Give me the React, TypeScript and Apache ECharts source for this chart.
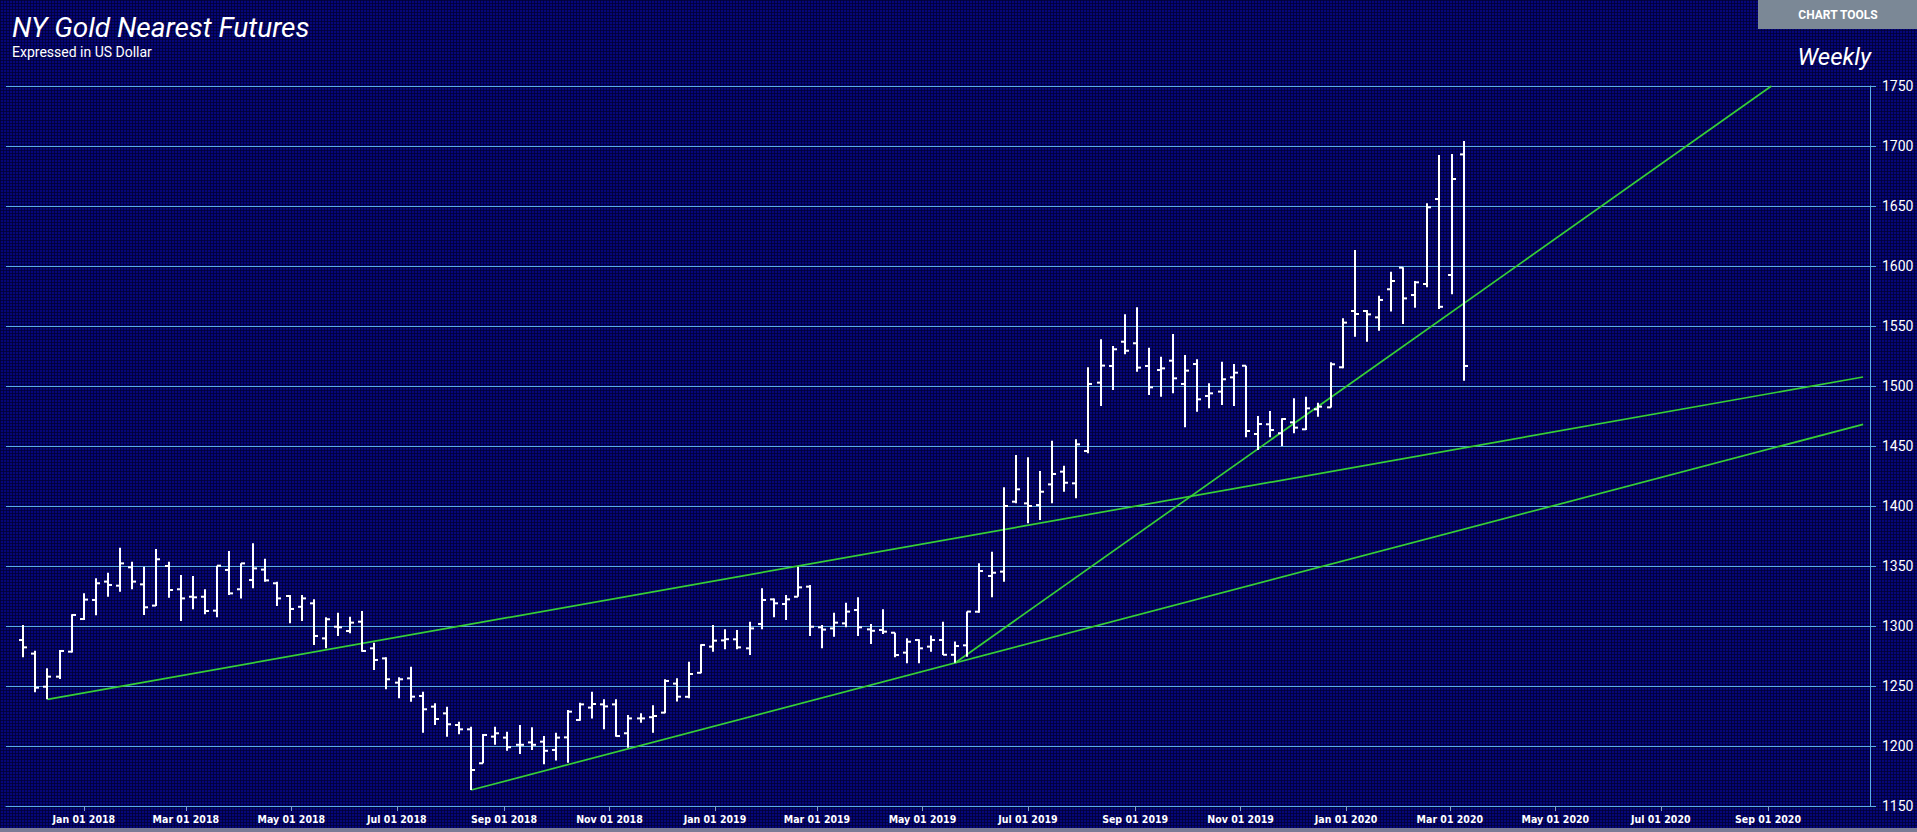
import React, { useEffect, useRef } from "react";
import * as echarts from "echarts";

// Weekly bar dates (week starting Monday)
const weekDates: string[] = [
  "2017-11-27", "2017-12-04", "2017-12-11", "2017-12-18", "2017-12-25",
  "2018-01-01", "2018-01-08", "2018-01-15", "2018-01-22", "2018-01-29",
  "2018-02-05", "2018-02-12", "2018-02-19", "2018-02-26", "2018-03-05",
  "2018-03-12", "2018-03-19", "2018-03-26", "2018-04-02", "2018-04-09",
  "2018-04-16", "2018-04-23", "2018-04-30", "2018-05-07", "2018-05-14",
  "2018-05-21", "2018-05-28", "2018-06-04", "2018-06-11", "2018-06-18",
  "2018-06-25", "2018-07-02", "2018-07-09", "2018-07-16", "2018-07-23",
  "2018-07-30", "2018-08-06", "2018-08-13", "2018-08-20", "2018-08-27",
  "2018-09-03", "2018-09-10", "2018-09-17", "2018-09-24", "2018-10-01",
  "2018-10-08", "2018-10-15", "2018-10-22", "2018-10-29", "2018-11-05",
  "2018-11-12", "2018-11-19", "2018-11-26", "2018-12-03", "2018-12-10",
  "2018-12-17", "2018-12-24", "2018-12-31", "2019-01-07", "2019-01-14",
  "2019-01-21", "2019-01-28", "2019-02-04", "2019-02-11", "2019-02-18",
  "2019-02-25", "2019-03-04", "2019-03-11", "2019-03-18", "2019-03-25",
  "2019-04-01", "2019-04-08", "2019-04-15", "2019-04-22", "2019-04-29",
  "2019-05-06", "2019-05-13", "2019-05-20", "2019-05-27", "2019-06-03",
  "2019-06-10", "2019-06-17", "2019-06-24", "2019-07-01", "2019-07-08",
  "2019-07-15", "2019-07-22", "2019-07-29", "2019-08-05", "2019-08-12",
  "2019-08-19", "2019-08-26", "2019-09-02", "2019-09-09", "2019-09-16",
  "2019-09-23", "2019-09-30", "2019-10-07", "2019-10-14", "2019-10-21",
  "2019-10-28", "2019-11-04", "2019-11-11", "2019-11-18", "2019-11-25",
  "2019-12-02", "2019-12-09", "2019-12-16", "2019-12-23", "2019-12-30",
  "2020-01-06", "2020-01-13", "2020-01-20", "2020-01-27", "2020-02-03",
  "2020-02-10", "2020-02-17", "2020-02-24", "2020-03-02", "2020-03-09",
];

const opens: number[] = [
  1288.3, 1277.0, 1249.4, 1257.8, 1278.6, 1305.8, 1321.7, 1337.0, 1333.6, 1348.9,
  1334.7, 1317.0, 1350.0, 1330.6, 1324.4, 1324.4, 1312.8, 1346.7, 1330.6, 1338.3,
  1347.0, 1335.6, 1325.0, 1316.0, 1318.9, 1289.7, 1299.4, 1295.8, 1303.6, 1281.4,
  1273.0, 1252.8, 1256.4, 1241.7, 1232.8, 1227.2, 1217.5, 1213.9, 1185.6, 1207.8,
  1207.0, 1201.0, 1203.0, 1203.6, 1196.7, 1207.2, 1221.7, 1232.0, 1234.7, 1234.7,
  1210.6, 1223.0, 1224.0, 1227.8, 1252.0, 1241.0, 1261.0, 1282.8, 1288.0, 1288.9,
  1281.4, 1301.7, 1322.2, 1318.3, 1324.4, 1332.8, 1298.9, 1298.0, 1302.2, 1313.3,
  1297.2, 1296.7, 1294.4, 1277.8, 1288.3, 1282.8, 1288.3, 1276.0, 1283.9, 1311.9,
  1341.7, 1345.3, 1403.6, 1402.2, 1400.8, 1418.0, 1428.6, 1418.9, 1445.8, 1502.8,
  1516.7, 1536.9, 1535.6, 1516.7, 1513.3, 1521.1, 1501.7, 1518.3, 1491.7, 1495.3,
  1507.2, 1516.9, 1460.0, 1468.1, 1460.6, 1469.7, 1463.9, 1480.6, 1482.2, 1515.6,
  1562.5, 1562.5, 1557.2, 1580.6, 1598.6, 1575.8, 1585.0, 1655.8, 1592.5, 1693.0,
];

const highs: number[] = [
  1300.8, 1279.4, 1264.7, 1280.0, 1309.7, 1327.2, 1339.7, 1344.4, 1365.3, 1353.6,
  1349.4, 1364.2, 1353.6, 1342.5, 1341.7, 1330.6, 1350.3, 1362.5, 1352.2, 1368.9,
  1356.0, 1336.9, 1325.8, 1325.8, 1322.2, 1307.2, 1311.0, 1307.8, 1312.5, 1286.1,
  1273.9, 1257.2, 1266.1, 1245.3, 1235.6, 1232.8, 1220.3, 1216.1, 1210.0, 1216.0,
  1211.9, 1217.5, 1215.6, 1208.3, 1211.0, 1230.0, 1236.0, 1245.3, 1238.9, 1238.9,
  1225.8, 1227.2, 1234.0, 1255.6, 1256.4, 1270.3, 1284.7, 1300.8, 1297.2, 1296.7,
  1303.6, 1331.4, 1323.0, 1325.8, 1349.4, 1334.2, 1300.8, 1311.0, 1319.4, 1323.9,
  1301.7, 1313.9, 1294.4, 1289.7, 1288.9, 1292.0, 1303.6, 1287.0, 1312.0, 1352.2,
  1361.9, 1415.6, 1442.5, 1440.6, 1429.2, 1454.4, 1433.6, 1455.6, 1515.6, 1538.9,
  1533.3, 1559.7, 1565.6, 1531.9, 1524.4, 1543.3, 1525.8, 1522.2, 1502.2, 1520.3,
  1518.3, 1516.9, 1475.0, 1479.2, 1473.1, 1489.7, 1491.1, 1486.1, 1519.7, 1556.4,
  1613.3, 1563.3, 1575.3, 1595.3, 1598.9, 1587.5, 1652.2, 1692.5, 1693.3, 1704.2,
];

const lows: number[] = [
  1273.9, 1244.7, 1238.9, 1255.8, 1278.0, 1305.0, 1309.0, 1324.4, 1328.6, 1330.6,
  1309.2, 1316.7, 1323.6, 1304.2, 1313.9, 1309.7, 1307.2, 1325.8, 1323.0, 1331.4,
  1336.9, 1316.7, 1302.2, 1304.2, 1284.2, 1281.4, 1291.7, 1293.9, 1278.6, 1263.3,
  1247.2, 1239.7, 1236.9, 1211.1, 1217.5, 1207.8, 1209.7, 1163.3, 1185.6, 1201.0,
  1196.0, 1193.3, 1196.7, 1184.7, 1188.0, 1186.0, 1221.0, 1223.0, 1213.9, 1207.8,
  1198.6, 1219.4, 1211.0, 1227.2, 1237.0, 1239.7, 1260.6, 1278.6, 1280.6, 1280.6,
  1275.8, 1297.2, 1307.2, 1305.0, 1324.4, 1291.7, 1281.4, 1291.0, 1298.9, 1291.7,
  1285.0, 1293.3, 1273.9, 1268.9, 1268.9, 1278.6, 1275.8, 1269.4, 1274.4, 1311.1,
  1323.9, 1336.9, 1402.2, 1385.6, 1388.3, 1402.2, 1411.9, 1406.4, 1443.9, 1483.3,
  1496.7, 1526.4, 1511.9, 1492.5, 1491.1, 1493.9, 1465.6, 1478.6, 1481.4, 1484.2,
  1483.3, 1457.2, 1446.7, 1457.2, 1450.0, 1460.6, 1463.3, 1474.4, 1482.0, 1514.7,
  1541.1, 1536.9, 1546.1, 1562.0, 1551.7, 1565.3, 1582.2, 1564.2, 1576.4, 1504.4,
];

const closes: number[] = [
  1282.2, 1248.6, 1257.8, 1279.2, 1309.2, 1322.0, 1335.6, 1334.2, 1352.2, 1337.0,
  1315.6, 1355.6, 1330.0, 1323.0, 1323.9, 1312.5, 1350.3, 1327.2, 1352.2, 1348.0,
  1338.0, 1323.0, 1314.2, 1323.0, 1291.7, 1305.6, 1298.9, 1302.8, 1279.2, 1271.7,
  1255.6, 1255.6, 1241.1, 1230.6, 1222.5, 1218.1, 1213.9, 1180.0, 1209.2, 1210.6,
  1199.0, 1201.0, 1201.0, 1196.0, 1207.0, 1228.6, 1234.7, 1235.0, 1233.0, 1208.3,
  1223.0, 1223.0, 1225.0, 1254.2, 1241.1, 1260.0, 1284.2, 1287.8, 1289.0, 1282.2,
  1298.0, 1321.7, 1318.9, 1322.2, 1332.2, 1299.4, 1297.0, 1302.8, 1312.0, 1298.9,
  1296.0, 1295.3, 1275.8, 1286.9, 1281.4, 1288.3, 1276.0, 1283.3, 1312.0, 1345.8,
  1344.4, 1400.0, 1413.9, 1400.0, 1411.9, 1426.7, 1419.4, 1451.4, 1501.7, 1517.0,
  1530.6, 1529.4, 1515.3, 1498.9, 1514.7, 1506.4, 1512.8, 1488.9, 1493.9, 1505.6,
  1511.1, 1462.5, 1468.3, 1463.3, 1472.5, 1465.3, 1481.4, 1482.8, 1518.1, 1552.8,
  1560.0, 1559.7, 1571.7, 1587.5, 1573.0, 1586.4, 1648.9, 1566.0, 1672.5, 1516.7,
];

// Trend lines: [date, price] endpoints
const trendLine1: [string, number][] = [["2017-12-11", 1238.9], ["2020-10-26", 1507.5]];
const trendLine2: [string, number][] = [["2018-08-13", 1163.3], ["2020-10-26", 1468.0]];
const trendLine3: [string, number][] = [["2019-05-20", 1269.4], ["2020-09-03", 1750.0]];

// x-axis tick dates
const xTickDates: string[] = [
  "2018-01-01", "2018-03-01", "2018-05-01", "2018-07-01", "2018-09-01", "2018-11-01",
  "2019-01-01", "2019-03-01", "2019-05-01", "2019-07-01", "2019-09-01", "2019-11-01",
  "2020-01-01", "2020-03-01", "2020-05-01", "2020-07-01", "2020-09-01",
];
const monthNames: string[] = ["Jan", "Feb", "Mar", "Apr", "May", "Jun", "Jul", "Aug", "Sep", "Oct", "Nov", "Dec"];

const xRange: string[] = ["2017-11-17", "2020-10-30"];
const yMin = 1150;
const yMax = 1750;
const yStep = 50;

const ts = (s: string) => Date.parse(s + "T00:00:00Z");

const GRID_BLUE = "#5aaee6";

export default function App() {
  const ref = useRef<HTMLDivElement>(null);

  useEffect(() => {
    if (!ref.current) return;
    const chart = echarts.init(ref.current, undefined, { renderer: "svg" });

    const ohlc = weekDates.map((d, i) => [ts(d), opens[i], highs[i], lows[i], closes[i]]);
    const toLine = (arr: [string, number][]) => arr.map(([d, p]) => [ts(d), p]);

    const lineSeries = [trendLine1, trendLine2, trendLine3].map((l) => ({
      type: "line",
      data: toLine(l),
      showSymbol: false,
      symbol: "none",
      silent: true,
      z: 2,
      lineStyle: { color: "#36cf36", width: 1.7 },
    }));

    const option: any = {
      animation: false,
      backgroundColor: "transparent",
      grid: { left: 6, right: 47, top: 86, bottom: 26, containLabel: false },
      graphic: [
        {
          type: "text",
          x: 12,
          y: 27,
          style: {
            text: "NY Gold Nearest Futures",
            fill: "#ffffff",
            fontFamily: "Roboto",
            fontSize: 28,
            fontStyle: "italic",
            verticalAlign: "middle",
            align: "left",
          },
        },
        {
          type: "text",
          x: 12,
          y: 51.5,
          style: {
            text: "Expressed in US Dollar",
            fill: "#ffffff",
            fontFamily: "Roboto",
            fontSize: 14,
            verticalAlign: "middle",
            align: "left",
          },
        },
        {
          type: "text",
          x: 1871,
          y: 57,
          style: {
            text: "Weekly",
            fill: "#ffffff",
            fontFamily: "Roboto",
            fontSize: 24,
            fontStyle: "italic",
            verticalAlign: "middle",
            align: "right",
          },
        },
        {
          type: "rect",
          shape: { x: 1758, y: 0, width: 159, height: 29 },
          style: { fill: "#7b8896" },
        },
        {
          type: "text",
          x: 1838,
          y: 14.5,
          style: {
            text: "CHART TOOLS",
            fill: "#ffffff",
            fontFamily: "Roboto",
            fontWeight: "bold",
            fontSize: 12,
            verticalAlign: "middle",
            align: "center",
          },
        },
        {
          type: "rect",
          shape: { x: 0, y: 828, width: 1917, height: 4 },
          style: { fill: "#7a7b96" },
        },
      ],
      xAxis: {
        type: "value",
        min: ts(xRange[0]),
        max: ts(xRange[1]),
        axisLine: { show: true, lineStyle: { color: GRID_BLUE, width: 1 } },
        axisTick: {
          show: true,
          length: 5,
          customValues: xTickDates.map(ts),
          lineStyle: { color: "#7f9fc4" },
        },
        axisLabel: {
          customValues: xTickDates.map(ts),
          color: "#ffffff",
          fontFamily: "'Liberation Sans Narrow', 'DejaVu Sans Condensed', Roboto, sans-serif",
          fontWeight: "bold",
          fontSize: 10.5,
          margin: 7,
          formatter: (v: number) => {
            const d = new Date(v);
            const dd = String(d.getUTCDate()).padStart(2, "0");
            return `${monthNames[d.getUTCMonth()]} ${dd} ${d.getUTCFullYear()}`;
          },
        },
        splitLine: { show: false },
      },
      yAxis: {
        type: "value",
        position: "right",
        min: yMin,
        max: yMax,
        interval: yStep,
        axisLine: { show: true, lineStyle: { color: GRID_BLUE, width: 1 } },
        axisTick: { show: true, length: 6, lineStyle: { color: GRID_BLUE } },
        axisLabel: {
          color: "#ffffff",
          fontFamily: "Roboto",
          fontSize: 14,
          margin: 12,
          formatter: (v: number) => String(v),
        },
        splitLine: { show: true, lineStyle: { color: GRID_BLUE, width: 1 } },
      },
      series: [
        ...lineSeries,
        {
          type: "custom",
          z: 3,
          silent: true,
          clip: true,
          data: ohlc,
          dimensions: ["date", "open", "high", "low", "close"],
          encode: { x: 0, y: [1, 2, 3, 4] },
          renderItem: (params: any, api: any) => {
            const t = api.value(0);
            const o = api.coord([t, api.value(1)]);
            const h = api.coord([t, api.value(2)]);
            const l = api.coord([t, api.value(3)]);
            const c = api.coord([t, api.value(4)]);
            const x = Math.round(h[0]);
            const st = { stroke: "#ffffff", lineWidth: 2 };
            return {
              type: "group",
              children: [
                { type: "line", shape: { x1: x, y1: h[1], x2: x, y2: l[1] }, style: st },
                { type: "line", shape: { x1: x - 4, y1: o[1], x2: x, y2: o[1] }, style: st },
                { type: "line", shape: { x1: x, y1: c[1], x2: x + 4, y2: c[1] }, style: st },
              ],
            };
          },
        },
      ],
    };

    chart.setOption(option);
    return () => chart.dispose();
  }, []);

  return (
    <div
      style={{
        position: "absolute",
        left: 0,
        top: 0,
        width: 1917,
        height: 832,
        overflow: "hidden",
        backgroundColor: "#06067a",
        backgroundImage:
          "linear-gradient(rgba(0,0,48,0.75) 1px, transparent 1px), linear-gradient(90deg, rgba(0,0,48,0.75) 1px, transparent 1px)",
        backgroundSize: "3px 3px",
      }}
    >
      <div ref={ref} style={{ width: 1917, height: 832 }} />
    </div>
  );
}
